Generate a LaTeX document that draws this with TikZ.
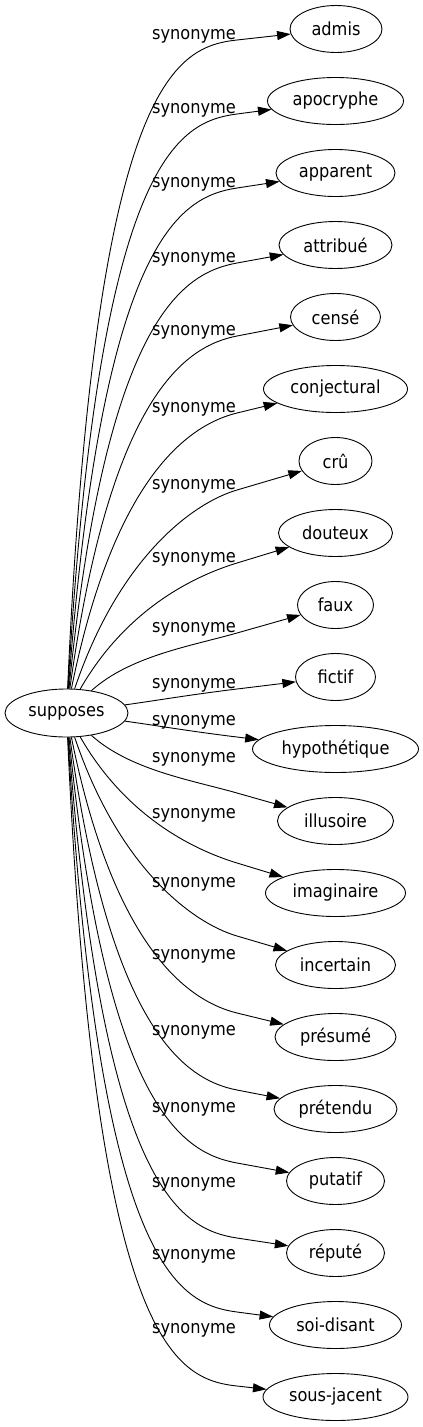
\documentclass[tikz,border=0pt]{standalone}
\usepackage{fontspec}
\setmainfont{DejaVu Sans Condensed}
\usetikzlibrary{arrows.meta,shapes.geometric}
\begin{document}
\begin{tikzpicture}[x=1pt,y=-1pt,
  every node/.style={font=\fontsize{18}{21}\selectfont},
  word/.style={draw, ellipse, inner sep=0pt, minimum height=47pt, line width=0.9pt},
  lbl/.style={anchor=base, inner sep=0pt},
  edge/.style={draw, line width=0.9pt, -{Triangle[length=13.5pt,width=9pt]}}]
\path[use as bounding box] (0,0) rectangle (423,1427);

\node[word, minimum width=123pt, minimum height=48pt] (sup) at (66.5,713) {supposes};

\node[word, minimum width=92pt]  (n1)  at (336,29)   {admis};
\node[word, minimum width=136pt] (n2)  at (335.5,101)  {apocryphe};
\node[word, minimum width=119pt] (n3)  at (335.5,173)  {apparent};
\node[word, minimum width=113pt] (n4)  at (335.5,245)  {attribué};
\node[word, minimum width=90pt]  (n5)  at (335.5,317)  {censé};
\node[word, minimum width=144pt] (n6)  at (335.5,389)  {conjectural};
\node[word, minimum width=73pt]  (n7)  at (335.5,461)  {crû};
\node[word, minimum width=114pt] (n8)  at (335.5,533)  {douteux};
\node[word, minimum width=76pt]  (n9)  at (335.5,605)  {faux};
\node[word, minimum width=80pt]  (n10) at (335.5,677)  {fictif};
\node[word, minimum width=166pt] (n11) at (335.5,749)  {hypothétique};
\node[word, minimum width=116pt] (n12) at (335.5,821)  {illusoire};
\node[word, minimum width=140pt] (n13) at (335.5,893)  {imaginaire};
\node[word, minimum width=120pt] (n14) at (335.5,965)  {incertain};
\node[word, minimum width=121pt] (n15) at (335.5,1037) {présumé};
\node[word, minimum width=123pt] (n16) at (335.5,1109) {prétendu};
\node[word, minimum width=98pt]  (n17) at (335.5,1181) {putatif};
\node[word, minimum width=98pt]  (n18) at (335.5,1253) {réputé};
\node[word, minimum width=132pt] (n19) at (335.5,1325) {soi-disant};
\node[word, minimum width=145pt] (n20) at (335.5,1397) {sous-jacent};

\node[lbl] (l1)  at (194,39)   {synonyme};
\node[lbl] (l2)  at (194,113)  {synonyme};
\node[lbl] (l3)  at (194,187)  {synonyme};
\node[lbl] (l4)  at (194,262)  {synonyme};
\node[lbl] (l5)  at (194,335)  {synonyme};
\node[lbl] (l6)  at (194,412)  {synonyme};
\node[lbl] (l7)  at (194,489)  {synonyme};
\node[lbl] (l8)  at (194,562)  {synonyme};
\node[lbl] (l9)  at (194,632)  {synonyme};
\node[lbl] (l10) at (194,688)  {synonyme};
\node[lbl] (l11) at (194,725)  {synonyme};
\node[lbl] (l12) at (194,762)  {synonyme};
\node[lbl] (l13) at (194,818)  {synonyme};
\node[lbl] (l14) at (194,887)  {synonyme};
\node[lbl] (l15) at (194,959)  {synonyme};
\node[lbl] (l16) at (194,1035) {synonyme};
\node[lbl] (l17) at (194,1112) {synonyme};
\node[lbl] (l18) at (194,1187) {synonyme};
\node[lbl] (l19) at (194,1259) {synonyme};
\node[lbl] (l20) at (194,1333) {synonyme};

\draw[edge] (sup) .. controls (95,80) and (175.4,46.9) .. (237,40) -- (n1);
\draw[edge] (sup) .. controls (98.8,159) and (177.8,121.8) .. (237,114) -- (n2);
\draw[edge] (sup) .. controls (102.6,238) and (180.2,196.7) .. (237,188) -- (n3);
\draw[edge] (sup) .. controls (106.4,318) and (182.8,272.9) .. (237,263) -- (n4);
\draw[edge] (sup) .. controls (110.2,396) and (185.2,346) .. (237,336) -- (n5);
\draw[edge] (sup) .. controls (114,478) and (187.9,425) .. (237,413) -- (n6);
\draw[edge] (sup) .. controls (118,560) and (191,503.5) .. (237,490) -- (n7);
\draw[edge] (sup) .. controls (125,610.9) and (191.1,577) .. (237,563) -- (n8);
\draw[edge] (sup) .. controls (130,656) and (190.8,646.1) .. (237,633) -- (n9);
\draw[edge] (sup) .. controls (160,700) and (189.3,694.8) .. (237,689) -- (n10);
\draw[edge] (sup) .. controls (160,726) and (189.3,731.2) .. (237,737) -- (n11);
\draw[edge] (sup) .. controls (130,770) and (190.8,779.9) .. (237,793) -- (n12);
\draw[edge] (sup) .. controls (125,815.1) and (191.1,849) .. (237,863) -- (n13);
\draw[edge] (sup) .. controls (118,866) and (191,922.5) .. (237,936) -- (n14);
\draw[edge] (sup) .. controls (114,948) and (187.9,1001) .. (237,1013) -- (n15);
\draw[edge] (sup) .. controls (110.2,1030) and (185.2,1080) .. (237,1090) -- (n16);
\draw[edge] (sup) .. controls (106.4,1108) and (182.8,1153.1) .. (237,1163) -- (n17);
\draw[edge] (sup) .. controls (102.6,1188) and (180.2,1229.3) .. (237,1238) -- (n18);
\draw[edge] (sup) .. controls (98.8,1267) and (177.8,1304.2) .. (237,1312) -- (n19);
\draw[edge] (sup) .. controls (95,1346) and (175.4,1379.1) .. (237,1386) -- (n20);
\end{tikzpicture}
\end{document}
